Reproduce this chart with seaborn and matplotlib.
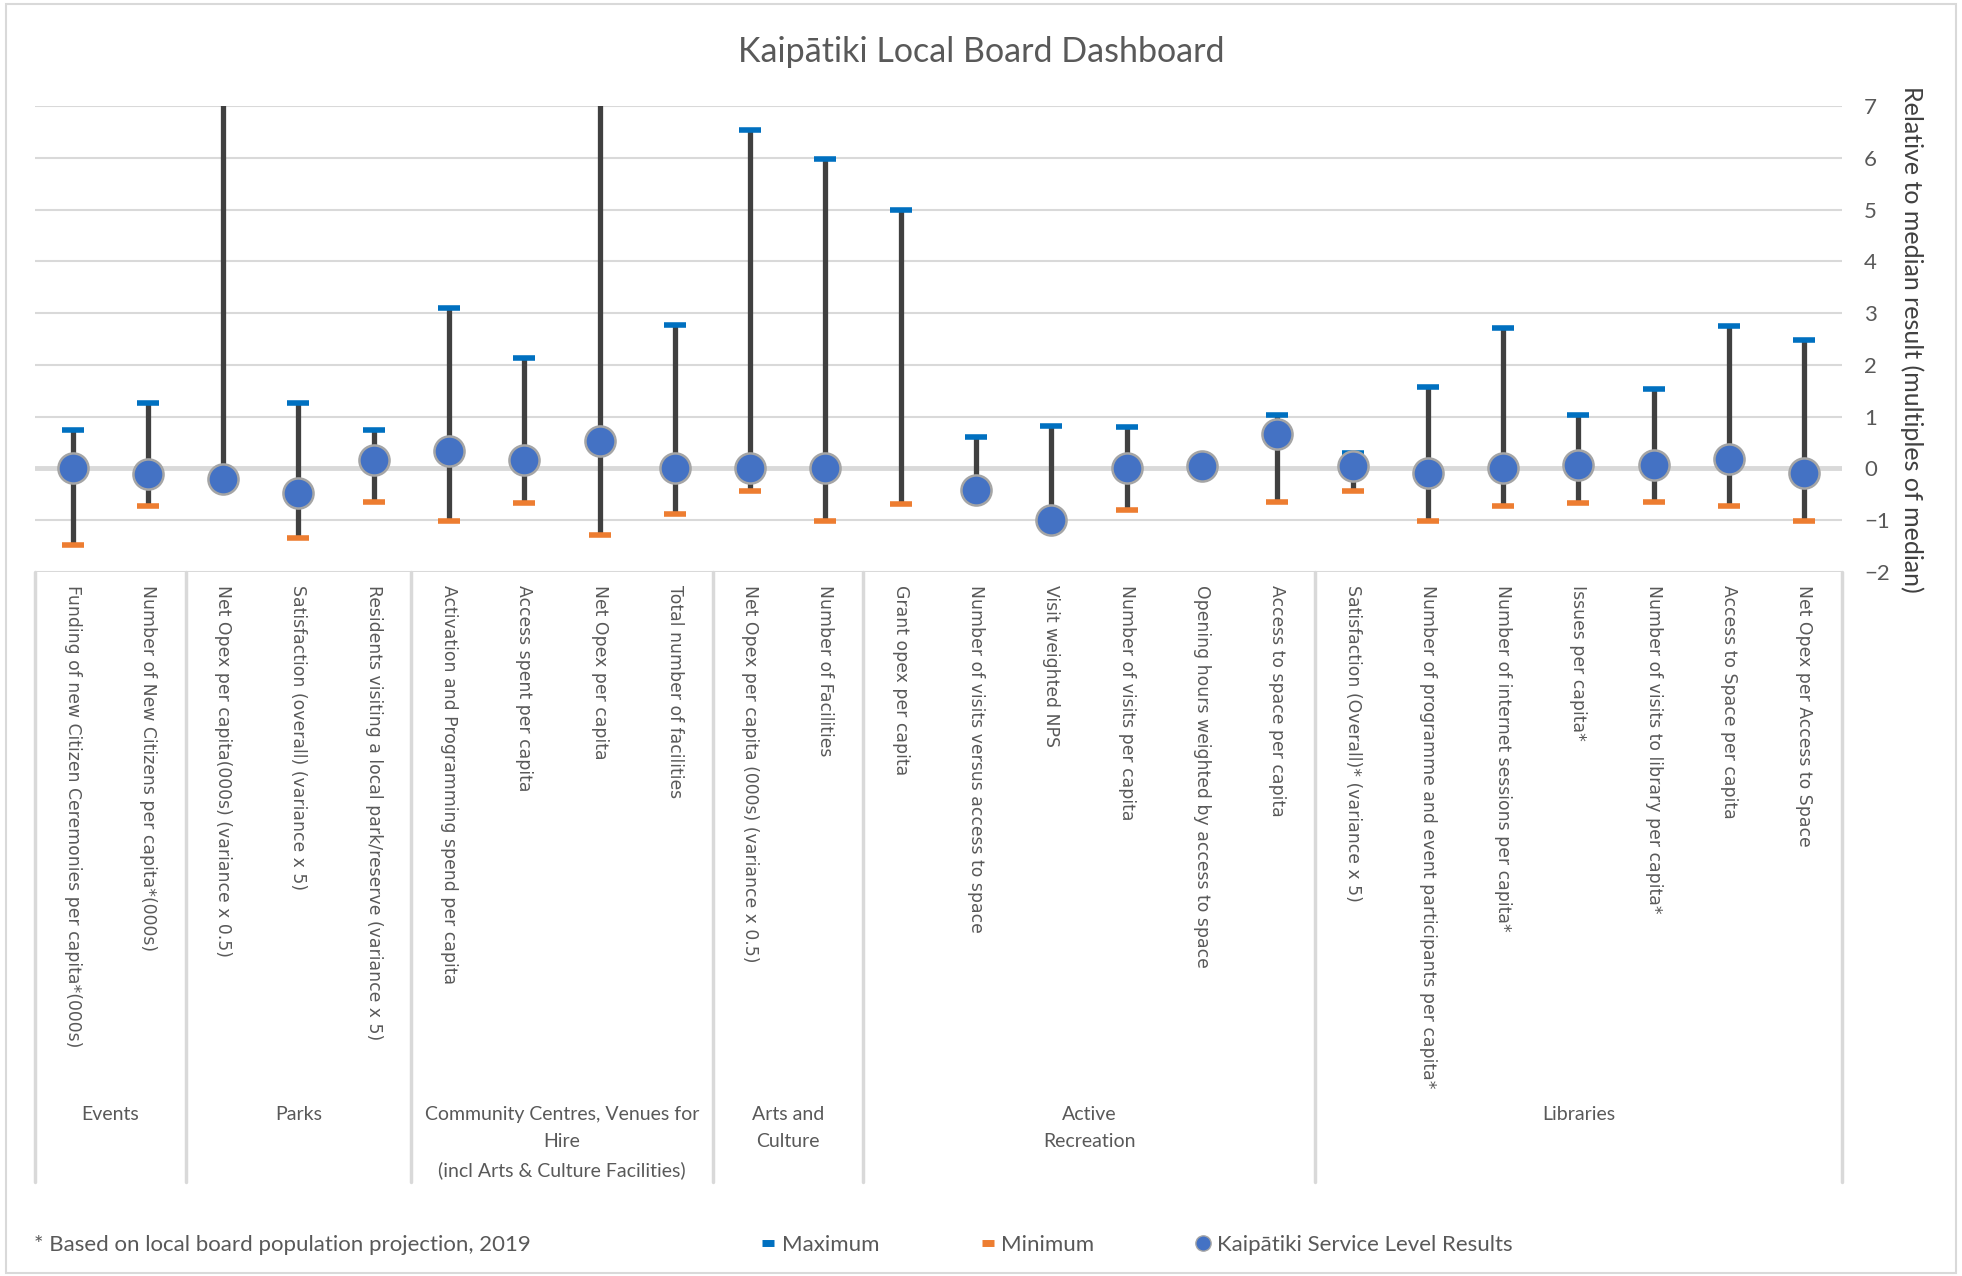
import numpy as np
import pandas as pd
import matplotlib
matplotlib.use("Agg")
import matplotlib.pyplot as plt
import matplotlib.transforms as mtransforms
from matplotlib.lines import Line2D
from matplotlib.patches import Rectangle
import seaborn as sns

sns.set_style("white")
plt.rcParams['font.family'] = ['Lato', 'DejaVu Sans']

# Measures (x axis, level 1)
measures = [
    "Funding of new Citizen Ceremonies per capita*(000s)",
    "Number of New Citizens per capita*(000s)",
    "Net Opex per capita(000s) (variance x 0.5)",
    "Satisfaction (overall) (variance x 5)",
    "Residents visiting a local park/reserve (variance x 5)",
    "Activation and Programming spend per capita",
    "Access spent per capita",
    "Net Opex per capita",
    "Total number of facilities",
    "Net Opex per capita (000s) (variance x 0.5)",
    "Number of Facilities",
    "Grant opex per capita",
    "Number of visits versus access to space",
    "Visit weighted NPS",
    "Number of visits per capita",
    "Opening hours weighted by access to space",
    "Access to space per capita",
    "Satisfaction (Overall)* (variance x 5)",
    "Number of programme and event participants per capita*",
    "Number of internet sessions per capita*",
    "Issues per capita*",
    "Number of visits to library per capita*",
    "Access to Space per capita",
    "Net Opex per Access to Space",
]

# Groups (x axis, level 2)
groups = ["Events", "Parks",
          "Community Centres, Venues for\nHire\n(incl Arts & Culture Facilities)",
          "Arts and\nCulture", "Active\nRecreation", "Libraries"]
group_sizes = [2, 3, 4, 2, 6, 7]

# Values relative to median (multiples of median)
maximum = [0.75, 1.27, 8.0, 1.27, 0.75, 3.10, 2.14, 8.0, 2.78, 6.53, 5.98, 4.99,
           0.60, 0.83, 0.80, 0.10, 1.03, 0.30, 1.57, 2.71, 1.03, 1.54, 2.76, 2.49]
minimum = [-1.48, -0.73, -0.25, -1.35, -0.64, -1.01, -0.66, -1.28, -0.88, -0.44, -1.01, -0.69,
           -0.45, -1.05, -0.81, 0.00, -0.64, -0.44, -1.01, -0.73, -0.66, -0.64, -0.72, -1.01]
results = [0.00, -0.11, -0.20, -0.48, 0.17, 0.34, 0.17, 0.54, 0.00, 0.00, 0.00, np.nan,
           -0.41, -1.00, 0.00, 0.05, 0.66, 0.04, -0.08, 0.00, 0.07, 0.07, 0.19, -0.09]

df = pd.DataFrame({"measure": measures, "maximum": maximum,
                   "minimum": minimum, "result": results})
df["pos"] = np.arange(len(df))

blue_max = '#0070C0'
orange_min = '#ED7D31'
point_blue = '#4472C4'
range_grey = '#404040'
grid_grey = '#D9D9D9'
text_grey = '#595959'

fig = plt.figure(figsize=(19.62, 12.76), dpi=100)
ax = fig.add_axes([0.0178, 0.5517, 0.9210, 0.3652])

# grid
for y in range(-2, 8):
    ax.axhline(y, color=grid_grey, lw=3.5 if y == 0 else 1.5, zorder=0)

# range lines
ax.vlines(df["pos"], df["minimum"], df["maximum"], color=range_grey, lw=3.8, zorder=2)

sns.scatterplot(data=df, x="pos", y="maximum", marker="_", s=240, linewidth=4,
                color=blue_max, ax=ax, zorder=3, legend=False)
sns.scatterplot(data=df, x="pos", y="minimum", marker="_", s=240, linewidth=4,
                color=orange_min, ax=ax, zorder=3, legend=False)
sns.scatterplot(data=df, x="pos", y="result", marker="o", s=470, color=point_blue,
                edgecolor='#A5A5A5', linewidth=1.8, ax=ax, zorder=4, legend=False)

ax.set_xlim(-0.5, len(df) - 0.5)
ax.set_ylim(-2, 7)
ax.set_yticks(range(-2, 8))
ax.yaxis.tick_right()
ax.yaxis.set_label_position("right")
ax.tick_params(axis='y', length=0, pad=16, labelsize=16, labelcolor=text_grey)
ax.set_ylabel("Relative to median result (multiples of median)", rotation=-90,
              fontsize=18, color='#404040', labelpad=7, va='bottom')

ax.set_xticks(df["pos"])
ax.set_xticklabels(df["measure"], rotation=-90, ha='center', va='top',
                   fontsize=12.4, color=text_grey, family='DejaVu Sans')
ax.tick_params(axis='x', length=0, pad=9)
ax.set_xlabel("")
for s in ax.spines.values():
    s.set_visible(False)

# group table under the axis
trans = mtransforms.blended_transform_factory(ax.transData, fig.transFigure)
edges = np.concatenate([[0], np.cumsum(group_sizes)]) - 0.5
for e in edges:
    ax.add_line(Line2D([e, e], [0.5517, 0.0737], transform=trans, color=grid_grey,
                       lw=2.5, clip_on=False))
for g, lo, hi in zip(groups, edges[:-1], edges[1:]):
    ax.text((lo + hi) / 2, 0.1335, g, transform=trans, ha='center', va='top',
            fontsize=14, color=text_grey, linespacing=1.75)

# title centred on the whole chart area
fig.text(0.5, 0.959, "Kaipātiki Local Board Dashboard", ha='center', va='center',
         fontsize=24.5, color=text_grey)

# footnote and legend
fig.text(0.0173, 0.0243, "* Based on local board population projection, 2019",
         fontsize=16, color=text_grey, va='center')
handles = [
    Line2D([], [], marker='_', linestyle='none', color=blue_max, markersize=9, mew=5),
    Line2D([], [], marker='_', linestyle='none', color=orange_min, markersize=9, mew=5),
    Line2D([], [], marker='o', linestyle='none', color=point_blue, markeredgecolor='#A5A5A5',
           markersize=11),
]
fig.legend(handles, ["Maximum", "Minimum", "Kaipātiki Service Level Results"],
           loc='center left', bbox_to_anchor=(0.378, 0.0243), ncol=3, frameon=False,
           fontsize=16, labelcolor=text_grey, handlelength=0.6, handletextpad=0.3,
           columnspacing=4.6)

fig.add_artist(Rectangle((0.003, 0.002), 0.994, 0.995, transform=fig.transFigure,
                         fill=False, ec=grid_grey, lw=1.5))

plt.savefig("out.png", dpi=100)
